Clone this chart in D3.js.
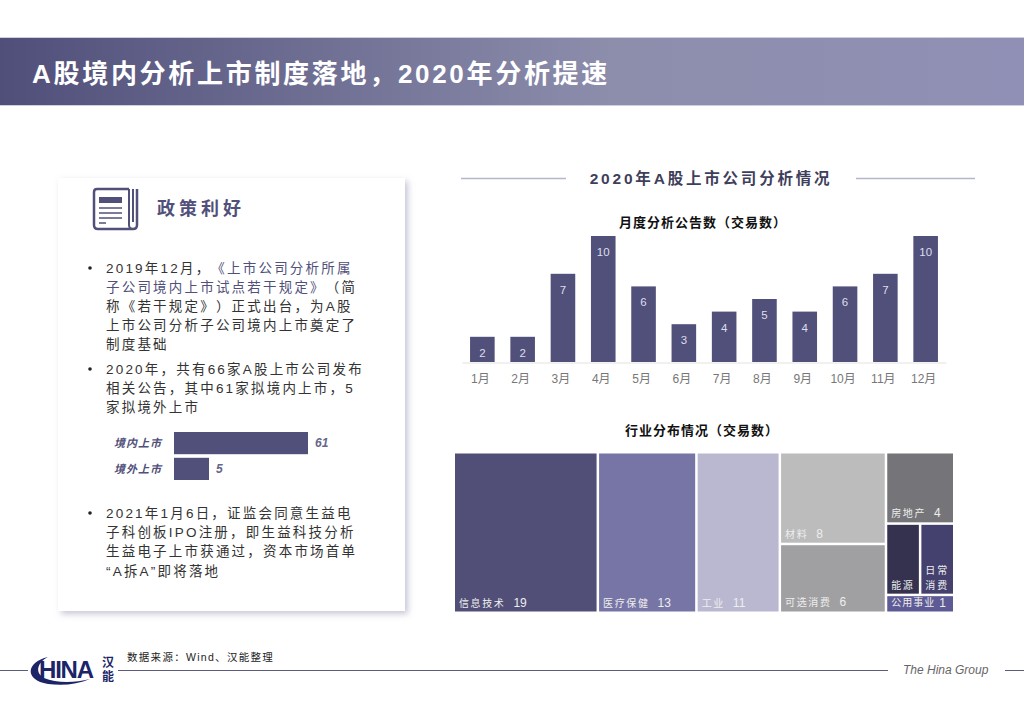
<!DOCTYPE html>
<html lang="zh-CN">
<head>
<meta charset="utf-8">
<script src="https://cdn.jsdelivr.net/npm/d3@7"></script>
<style>
  body { margin: 0; background: #fff; }
  svg { display: block; }
  text { font-family: "Liberation Sans", "Noto Sans CJK SC", sans-serif; text-spacing-trim: space-all; font-feature-settings: "palt" 0; }
</style>
</head>
<body>
<div id="chart"></div>
<script>
const months = ["1月","2月","3月","4月","5月","6月","7月","8月","9月","10月","11月","12月"]
const monthCounts = [2,2,7,10,6,3,4,5,4,6,7,10]

const listingNames = ["境内上市","境外上市"]
const listingCounts = [61,5]

const industryNames = ["信息技术","医疗保健","工业","材料","可选消费","房地产","能源","日常消费","公用事业"]
const industryCounts = [19,13,11,8,6,4,2,2,1]
const industryColors = ["#514f78","#7775a6","#b9b8d0","#bcbcbc","#a0a0a2","#757579","#34324f","#45416f","#5d5a95"]

const bulletLines = [
    [["2019年12月，","#333"],["《上市公司分析所属","#50507a"]],
    [["子公司境内上市试点若干规定》","#50507a"],["（简","#333"]],
    [["称《若干规定》）正式出台，为A股","#333"]],
    [["上市公司分析子公司境内上市奠定了","#333"]],
    [["制度基础","#333"]],
    [["2020年，共有66家A股上市公司发布","#333"]],
    [["相关公告，其中61家拟境内上市，5","#333"]],
    [["家拟境外上市","#333"]],
    [["2021年1月6日，证监会同意生益电","#333"]],
    [["子科创板IPO注册，即生益科技分析","#333"]],
    [["生益电子上市获通过，资本市场首单","#333"]],
    [["“A拆A”即将落地","#333"]]
]
const bulletY = [268,287,306,325,344,369,388,407,513,532,551,571]
const bulletDots = [268,369,513]

const dark = "#50507a"

let svg = d3.select("#chart")
    .append("svg")
    .attr("width", 1024)
    .attr("height", 708)

let defs = svg.append("defs")

let grad = defs.append("linearGradient").attr("id", "headGrad")
grad.append("stop").attr("offset", "0%").attr("stop-color", "#4f4f7a")
grad.append("stop").attr("offset", "60%").attr("stop-color", "#8d8dac")
grad.append("stop").attr("offset", "100%").attr("stop-color", "#9090b6")

let shadow = defs.append("filter").attr("id", "cardShadow")
    .attr("x", "-5%").attr("y", "-5%").attr("width", "112%").attr("height", "110%")
shadow.append("feDropShadow")
    .attr("dx", 3).attr("dy", 3).attr("stdDeviation", 3)
    .attr("flood-color", "#9a9ab8").attr("flood-opacity", 0.55)

// header band
svg.append("rect")
    .attr("x", 0).attr("y", 38).attr("width", 1024).attr("height", 67)
    .attr("fill", "url(#headGrad)")
svg.append("path")
    .attr("d", "M0 37.5 H1024 M0 105.5 H1024")
    .attr("stroke", "#cfcfe0")
svg.append("text")
    .attr("x", 32).attr("y", 83)
    .attr("fill", "#fff")
    .style("font-size", "26px")
    .style("font-weight", "bold")
    .style("letter-spacing", "2.7px")
    .text("A股境内分析上市制度落地，2020年分析提速")

// left card
svg.append("rect")
    .attr("x", 58).attr("y", 178).attr("width", 347).attr("height", 433)
    .attr("fill", "#fff")
    .attr("filter", "url(#cardShadow)")

let icon = svg.append("g").attr("fill", "none").attr("stroke", dark)
icon.append("path")
    .attr("d", "M129 189 H97 Q94 189 94 192 V225 Q94 229 98 229 H133 Q137 229 137 225 V189")
    .attr("stroke-width", 2.5)
icon.append("path").attr("d", "M129 189 V225 Q129 229 133 229 M133 189 V222").attr("stroke-width", 2)
icon.append("rect")
    .attr("x", 99).attr("y", 197).attr("width", 23).attr("height", 6)
    .attr("fill", dark).attr("stroke", "none")
icon.append("path").attr("d", "M99 208 H122 M99 213 H122 M99 218 H122 M99 223 H106").attr("stroke-width", 1.3)

svg.append("text")
    .attr("x", 157).attr("y", 215)
    .attr("fill", dark)
    .style("font-size", "18px")
    .style("font-weight", "bold")
    .style("letter-spacing", "4px")
    .text("政策利好")

// bullet text
bulletLines.forEach(function (line, i) {
    let t = svg.append("text")
        .attr("x", 106).attr("y", bulletY[i] + 5)
        .style("font-size", "13.5px")
        .style("letter-spacing", "2.2px")
    line.forEach(function (seg) {
        t.append("tspan").attr("fill", seg[1]).text(seg[0])
    })
})
svg.selectAll(".dot")
    .data(bulletDots)
    .join("circle")
    .attr("class", "dot")
    .attr("cx", 90)
    .attr("cy", d => d)
    .attr("r", 1.8)
    .attr("fill", "#222")

// small listing bars, the original bar lengths do not start from zero
let listX = d3.scaleLinear().domain([-14.8, 61]).range([174, 308])
let listY = d3.scaleBand().domain(listingNames).range([432, 480]).paddingInner(0.14)

svg.selectAll(".listBar")
    .data(listingNames)
    .join("rect")
    .attr("class", "listBar")
    .attr("x", listX(-14.8))
    .attr("y", d => listY(d))
    .attr("width", (d, i) => listX(listingCounts[i]) - listX(-14.8))
    .attr("height", listY.bandwidth())
    .attr("fill", dark)

svg.selectAll(".listName")
    .data(listingNames)
    .join("text")
    .attr("class", "listName")
    .attr("x", 114)
    .attr("y", d => listY(d) + listY.bandwidth() / 2 + 4)
    .attr("fill", dark)
    .style("font-size", "11px")
    .style("font-weight", "bold")
    .style("font-style", "italic")
    .style("letter-spacing", "1px")
    .text(d => d)

svg.selectAll(".listVal")
    .data(listingCounts)
    .join("text")
    .attr("class", "listVal")
    .attr("x", d => listX(d) + 7)
    .attr("y", (d, i) => listY(listingNames[i]) + listY.bandwidth() / 2 + 4)
    .attr("fill", "#66668a")
    .style("font-size", "12px")
    .style("font-weight", "bold")
    .style("font-style", "italic")
    .text(d => d)

// right section heading
svg.append("path")
    .attr("d", "M461 178.5 H566 M856 178.5 H975")
    .attr("stroke", "#b5b5cf")
    .attr("stroke-width", 1.3)
svg.append("text")
    .attr("x", 711).attr("y", 184)
    .attr("text-anchor", "middle")
    .attr("fill", "#3f3f5c")
    .style("font-size", "15.5px")
    .style("font-weight", "bold")
    .style("letter-spacing", "2.8px")
    .text("2020年A股上市公司分析情况")

svg.append("text")
    .attr("x", 703).attr("y", 227)
    .attr("text-anchor", "middle")
    .attr("fill", "#111")
    .style("font-size", "13px")
    .style("font-weight", "bold")
    .style("letter-spacing", "1px")
    .text("月度分析公告数（交易数）")

// monthly bars
let xScale = d3.scaleBand().domain(months).range([462, 946]).paddingInner(0.39).paddingOuter(0.2)
let yScale = d3.scaleLinear().domain([0, 10]).range([362, 236])

svg.selectAll(".bar")
    .data(months)
    .join("rect")
    .attr("class", "bar")
    .attr("x", d => xScale(d))
    .attr("y", (d, i) => yScale(monthCounts[i]))
    .attr("width", xScale.bandwidth())
    .attr("height", (d, i) => yScale(0) - yScale(monthCounts[i]))
    .attr("fill", dark)

svg.selectAll(".barVal")
    .data(months)
    .join("text")
    .attr("class", "barVal")
    .attr("x", d => xScale(d) + xScale.bandwidth() / 2)
    .attr("y", (d, i) => yScale(monthCounts[i]) + 20)
    .attr("text-anchor", "middle")
    .attr("fill", "#dedeee")
    .style("font-size", "11.5px")
    .text((d, i) => monthCounts[i])

let xAxis = svg.append("g")
    .attr("transform", "translate(0,362.5)")
    .call(d3.axisBottom(xScale).tickSize(0).tickPadding(12))
xAxis.select(".domain").attr("stroke", "#e2e2e2")
xAxis.selectAll("text")
    .attr("fill", "#777")
    .attr("dx", -2)
    .style("font-size", "12px")

svg.append("text")
    .attr("x", 702).attr("y", 435)
    .attr("text-anchor", "middle")
    .attr("fill", "#111")
    .style("font-size", "13px")
    .style("font-weight", "bold")
    .style("letter-spacing", "1px")
    .text("行业分布情况（交易数）")

// treemap, columns are index groups of the industry arrays
const columns = [[0],[1],[2],[3,4],[5,[6,7],8]]
function toNode(entry) {
    if (Array.isArray(entry)) return {children: entry.map(toNode)}
    return {index: entry, value: industryCounts[entry]}
}
let root = d3.hierarchy({children: columns.map(toNode)}).sum(d => d.value || 0)

function tile(node, x0, y0, x1, y1) {
    let f = node.depth % 2 == 0 ? d3.treemapDice : d3.treemapSlice
    f(node, x0, y0, x1, y1)
}
d3.treemap().tile(tile).size([498, 158]).paddingInner(2.5)(root)

let cells = svg.append("g")
    .attr("transform", "translate(455,453.5)")
    .selectAll("g")
    .data(root.leaves())
    .join("g")
    .attr("transform", d => "translate(" + d.x0 + "," + d.y0 + ")")

cells.append("rect")
    .attr("width", d => d.x1 - d.x0)
    .attr("height", d => d.y1 - d.y0)
    .attr("fill", d => industryColors[d.data.index])

function addCellText(cell, d) {
    let i = d.data.index
    let name = industryNames[i]
    let h = d.y1 - d.y0
    let w = d.x1 - d.x0
    if (name == "日常消费") {
        [name.slice(0, 2), name.slice(2)].forEach(function (part, k) {
            cell.append("text")
                .attr("x", w / 2).attr("y", h - 20 + k * 15)
                .attr("text-anchor", "middle")
                .attr("fill", "#eee")
                .style("font-size", "10px")
                .style("letter-spacing", "2px")
                .text(part)
        })
        return
    }
    let t = cell.append("text")
        .attr("x", 4).attr("y", h - 5)
        .attr("fill", "#eee")
    t.append("tspan")
        .style("font-size", "10px")
        .style("letter-spacing", name == "公用事业" ? "1px" : "1.6px")
        .text(name)
    if (name != "能源") {
        t.append("tspan")
            .attr("dx", name == "公用事业" ? 4 : 8)
            .style("font-size", "12px")
            .text(industryCounts[i])
    }
}
cells.each(function (d) { addCellText(d3.select(this), d) })

// footer
svg.append("path")
    .attr("d", "M0 670.5 H28 M118 670.5 H888 M1005 670.5 H1024")
    .attr("stroke", "#5c5c7e")
    .attr("stroke-width", 1)
svg.append("text")
    .attr("x", 127).attr("y", 661)
    .attr("fill", "#222")
    .style("font-size", "10.5px")
    .style("letter-spacing", "1.3px")
    .text("数据来源：Wind、汉能整理")
svg.append("text")
    .attr("x", 903).attr("y", 674)
    .attr("fill", "#666")
    .style("font-size", "12px")
    .style("font-style", "italic")
    .text("The Hina Group")

// logo
svg.append("path")
    .attr("d", "M48 657 C26 662 24 680 48 684 C64 686 78 684 90 679 C74 683 56 683 44 678 C34 672 38 662 48 657 Z")
    .attr("fill", "#1c2468")
svg.append("text")
    .attr("x", 39).attr("y", 678)
    .attr("fill", "#1c2468")
    .style("font-size", "24px")
    .style("font-weight", "bold")
    .style("letter-spacing", "-1.2px")
    .text("HINA")
svg.append("text")
    .attr("x", 102).attr("y", 667)
    .attr("fill", "#1c2468")
    .style("font-size", "12px")
    .style("font-weight", "bold")
    .text("汉")
svg.append("text")
    .attr("x", 102).attr("y", 681)
    .attr("fill", "#1c2468")
    .style("font-size", "12px")
    .style("font-weight", "bold")
    .text("能")
</script>
</body>
</html>
